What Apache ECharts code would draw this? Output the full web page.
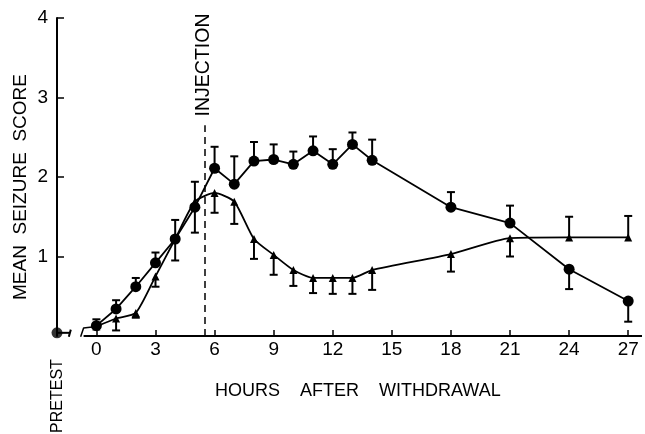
<!DOCTYPE html>
<html>
<head>
<meta charset="utf-8">
<script src="https://cdn.jsdelivr.net/npm/echarts@6/dist/echarts.min.js"></script>
<style>
  html, body { margin: 0; padding: 0; background: #fff; }
  #chart { width: 645px; height: 434px; }
</style>
</head>
<body>
<div id="chart"></div>
<script>
// ---- data ----
const hours        = [0, 1, 2, 3, 4, 5, 6, 7, 8, 9, 10, 11, 12, 13, 14, 18, 21, 24, 27];
const circleMean   = [0.13, 0.34, 0.62, 0.92, 1.22, 1.62, 2.11, 1.91, 2.20, 2.22, 2.16, 2.33, 2.16, 2.41, 2.21, 1.62, 1.42, 0.84, 0.44];
const circleErrEnd = [0.21, 0.45, 0.73, 1.05, 1.46, 1.94, 2.38, 2.26, 2.44, 2.41, 2.32, 2.51, 2.35, 2.56, 2.47, 1.81, 1.64, 0.59, 0.18];
const triMean      = [0.12, 0.22, 0.29, 0.75, 1.22, 1.69, 1.80, 1.69, 1.22, 1.02, 0.83, 0.73, 0.73, 0.73, 0.83, 1.03, 1.23, 1.24, 1.24];
const triErrEnd    = [null, 0.07, 0.23, 0.62, 0.95, 1.30, 1.55, 1.41, 0.97, 0.77, 0.63, 0.54, 0.53, 0.53, 0.58, 0.81, 1.00, 1.50, 1.51];
const pretestHour  = -2;
const pretestValue = 0.04;
const xTickLabels  = [0, 3, 6, 9, 12, 15, 18, 21, 24, 27];
const yTickLabels  = [1, 2, 3, 4];
const injectionHour = 5.5;
const injectionTop  = 2.65;
// axis break (hours)
const breakLeft  = -1.35;
const breakRight = -0.8;
const axisEnd    = 27.7;

const FONT = 'Liberation Sans';

function errData(mean, end) {
  const out = [];
  hours.forEach((h, i) => { if (end[i] != null) out.push([h, mean[i], end[i]]); });
  return out;
}
function renderErr(params, api) {
  const x = api.value(0), y = api.value(1), e = api.value(2);
  const p0 = api.coord([x, y]);
  const p1 = api.coord([x, e]);
  return {
    type: 'group',
    children: [
      { type: 'line', shape: { x1: p0[0], y1: p0[1], x2: p1[0], y2: p1[1] }, style: { stroke: '#000', lineWidth: 2 } },
      { type: 'line', shape: { x1: p1[0] - 4, y1: p1[1], x2: p1[0] + 4, y2: p1[1] }, style: { stroke: '#000', lineWidth: 2 } }
    ]
  };
}

const chart = echarts.init(document.getElementById('chart'), null, { renderer: 'canvas' });
chart.setOption({
  animation: false,
  backgroundColor: '#fff',
  textStyle: { fontFamily: FONT, color: '#000' },
  grid: { left: 57, top: 18, width: 585, height: 318 },
  xAxis: {
    type: 'value', min: pretestHour, max: axisEnd,
    axisLine: { show: false },
    splitLine: { show: false },
    axisTick: { show: true, inside: true, length: 6, customValues: xTickLabels, lineStyle: { color: '#000', width: 1.5 } },
    axisLabel: { show: true, customValues: xTickLabels, margin: 4, fontSize: 19, color: '#000', fontFamily: FONT }
  },
  yAxis: {
    type: 'value', min: 0, max: 4,
    axisLine: { show: true, onZero: false, lineStyle: { color: '#000', width: 2 } },
    splitLine: { show: false },
    axisTick: { show: true, inside: true, length: 7, customValues: yTickLabels, lineStyle: { color: '#000', width: 1.5 } },
    axisLabel: { show: true, customValues: yTickLabels, margin: 9, fontSize: 19, color: '#000', fontFamily: FONT }
  },
  series: [
    // x axis line (right of the break) + injection marker
    {
      type: 'line', data: [[breakRight + 0.15, 0], [axisEnd, 0]], symbol: 'none', clip: false,
      lineStyle: { color: '#000', width: 2 }, z: 1,
      markLine: {
        silent: true, symbol: 'none', label: { show: false },
        lineStyle: { color: '#000', width: 1.5, type: [7, 5] },
        data: [[{ coord: [injectionHour, 0] }, { coord: [injectionHour, injectionTop] }]]
      }
    },
    // pretest stub with break marks
    {
      type: 'line', data: [[pretestHour, pretestValue], [breakLeft, pretestValue]], symbol: 'none', clip: false,
      lineStyle: { color: '#000', width: 2 }
    },
    {
      type: 'line', data: [[breakLeft - 0.05, -0.01], [breakLeft + 0.05, 0.08]], symbol: 'none', clip: false,
      lineStyle: { color: '#000', width: 2 }
    },
    {
      type: 'line', data: [[breakRight, -0.01], [breakRight + 0.15, 0.1], [0, 0.12]], symbol: 'none', clip: false,
      lineStyle: { color: '#000', width: 1.5 }
    },
    // pretest point
    {
      type: 'scatter', data: [[pretestHour, pretestValue]], symbol: 'circle', symbolSize: 11, clip: false,
      itemStyle: { color: '#000' }, z: 5
    },
    // error bars
    { type: 'custom', renderItem: renderErr, data: errData(circleMean, circleErrEnd), clip: false, z: 2 },
    { type: 'custom', renderItem: renderErr, data: errData(triMean, triErrEnd), clip: false, z: 2 },
    // circle series
    {
      type: 'line', data: hours.map((h, i) => [h, circleMean[i]]), symbol: 'circle', symbolSize: 11, clip: false,
      lineStyle: { color: '#000', width: 1.8 }, itemStyle: { color: '#000' }, z: 4
    },
    // triangle series
    {
      type: 'line', data: hours.map((h, i) => [h, triMean[i]]), symbol: 'triangle', symbolSize: 8, smooth: 0.2, clip: false,
      lineStyle: { color: '#000', width: 1.8 }, itemStyle: { color: '#000' }, z: 4
    }
  ],
  graphic: [
    { type: 'text', x: 21, y: 187, rotation: Math.PI / 2,
      style: { text: 'MEAN  SEIZURE  SCORE', font: '19px "' + FONT + '"', fill: '#000', textAlign: 'center', textVerticalAlign: 'middle' } },
    { type: 'text', x: 215, y: 391,
      style: { text: 'HOURS    AFTER    WITHDRAWAL', font: '18px "' + FONT + '"', fill: '#000', textAlign: 'left', textVerticalAlign: 'middle' } },
    { type: 'text', x: 58, y: 396, rotation: Math.PI / 2,
      style: { text: 'PRETEST', font: '16px "' + FONT + '"', fill: '#000', textAlign: 'center', textVerticalAlign: 'middle' } },
    { type: 'text', x: 204, y: 65, rotation: Math.PI / 2,
      style: { text: 'INJECTION', font: '19.5px "' + FONT + '"', fill: '#000', textAlign: 'center', textVerticalAlign: 'middle' } }
  ]
});
</script>
</body>
</html>
